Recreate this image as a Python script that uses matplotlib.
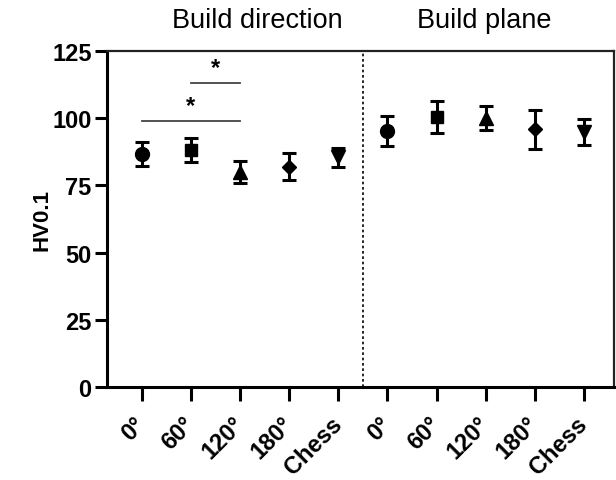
import matplotlib
matplotlib.use("Agg")
import matplotlib.pyplot as plt

plt.rcParams['font.family'] = ['Liberation Sans', 'DejaVu Sans']

labels = ["0°", "60°", "120°", "180°", "Chess", "0°", "60°", "120°", "180°", "Chess"]
means = [86.8, 88.1, 80.0, 82.0, 85.4, 95.2, 100.5, 100.2, 95.9, 94.9]
errs = [4.5, 4.5, 4.2, 5.0, 3.6, 5.7, 6.0, 4.5, 7.3, 4.9]
markers = ["o", "s", "^", "D", "v", "o", "s", "^", "D", "v"]
msizes = [10, 9, 10, 7.5, 10, 10, 9, 10, 7.5, 10]
yticks = [0, 25, 50, 75, 100, 125]
group_titles = ["Build direction", "Build plane"]
sig_pairs = [(1, 2), (0, 2)]
sig_heights = [113, 99]

fig = plt.figure(figsize=(6.16, 4.81), dpi=100)
ax = fig.add_axes([107/616, 1-388/481, (614-107)/616, (388-52)/481])

for i, (m, e, mk, ms) in enumerate(zip(means, errs, markers, msizes)):
    ax.errorbar(i, m, yerr=e, fmt=mk, color='black', markersize=ms,
                elinewidth=2.2, capsize=5, capthick=2.2, zorder=3)

ax.axvline(4.5, color='black', linestyle=(0, (1.6, 1.6)), linewidth=1.2)

for (a, b), h in zip(sig_pairs, sig_heights):
    ax.plot([a, b], [h, h], color='#444444', linewidth=1.3, clip_on=False)
    ax.text((a + b) / 2, h + 1.5, "*", ha='center', va='bottom', fontsize=17, fontweight='bold')

ax.set_xlim(-0.706, 9.61)
ax.set_ylim(0, 125)
ax.set_yticks(yticks)
ax.set_xticks(range(len(labels)))
ax.set_xticklabels(labels, rotation=45, ha='right', va='center', rotation_mode='anchor',
                   fontsize=17, fontweight='bold')
for lbl in ax.get_yticklabels():
    lbl.set_fontweight('bold')
    lbl.set_fontsize(17)
ax.set_ylabel("HV0.1", fontsize=16, fontweight='bold', labelpad=0)

for s in ['left', 'bottom']:
    ax.spines[s].set_linewidth(2.2)
for s in ['top', 'right']:
    ax.spines[s].set_linewidth(1.6)
    ax.spines[s].set_color('#222222')
ax.tick_params(axis='both', width=2.2, length=9, direction='out', pad=2)
ax.tick_params(axis='x', length=10, pad=14)

fig.text(257/616, 1-28/481, group_titles[0], ha='center', va='baseline', fontsize=19.5)
fig.text(484/616, 1-28/481, group_titles[1], ha='center', va='baseline', fontsize=19.5)

fig.savefig("out.png", dpi=100)
